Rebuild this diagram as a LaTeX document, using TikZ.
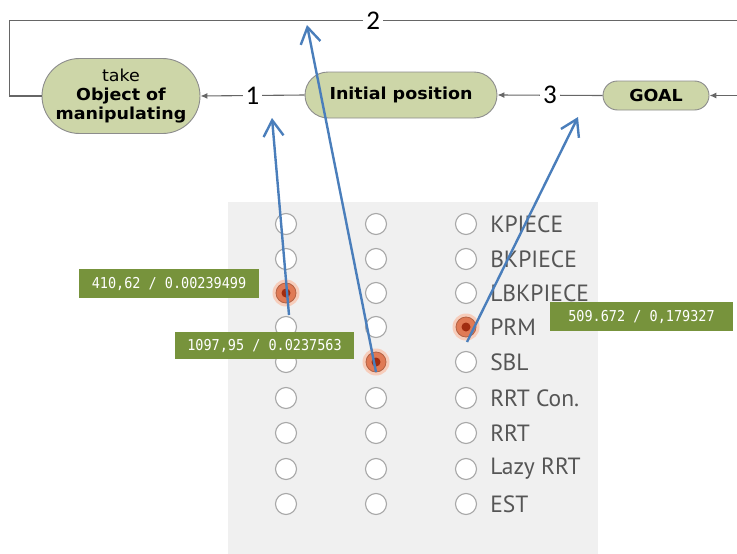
\documentclass[tikz,border=0pt]{standalone}
\usepackage{fontspec}
\usetikzlibrary{shapes.misc,arrows.meta}
\setmainfont{DejaVu Sans}
\newfontfamily\numfont{Carlito}
\newfontfamily\radfont{PT Sans}
\newfontfamily\boxfont[FakeStretch=0.9]{DejaVu Sans Mono}
\newfontfamily\nodefont[FakeStretch=1.06]{DejaVu Sans}
\definecolor{nodefill}{HTML}{CDD6A8}
\definecolor{nodeline}{HTML}{8C8C8C}
\definecolor{flowline}{HTML}{666666}
\definecolor{panel}{HTML}{F0F0F0}
\definecolor{boxgreen}{HTML}{77933C}
\definecolor{bluearrow}{HTML}{4A7EBB}
\definecolor{radline}{HTML}{A8A8A8}
\definecolor{radtext}{HTML}{555555}
\definecolor{selout}{HTML}{E07A55}
\definecolor{selhalo}{HTML}{F7CDBB}
\definecolor{selin}{HTML}{A02C10}
\tikzset{
  stadium/.style={rounded rectangle, draw=nodeline, line width=0.9pt, fill=nodefill,
    inner sep=0pt, font=\nodefont\fontsize{16.5}{19}\selectfont\bfseries, align=center},
  flow/.style={draw=flowline, line width=1.1pt, -{Latex[length=7pt,width=6pt]}},
  plainline/.style={draw=flowline, line width=1.1pt},
  numlab/.style={fill=white, inner sep=3pt, font=\numfont\fontsize{27}{27}\selectfont, text=black},
  radio/.style={circle, draw=radline, line width=1.1pt, fill=white, minimum size=21pt, inner sep=0pt},
  radlab/.style={anchor=west, inner sep=0pt, font=\radfont\fontsize{23.5}{24}\selectfont, text=radtext},
  greenbox/.style={fill=boxgreen, text=white, inner sep=0pt, font=\boxfont\fontsize{15}{15}\selectfont},
  blue/.style={draw=bluearrow, line width=2.4pt, -{Straight Barb[length=16pt,width=20pt]}},
}
\begin{document}
\begin{tikzpicture}[x=1pt,y=-1pt]
\useasboundingbox (0,0) rectangle (737,554);
% flow chart
\node[stadium, minimum width=158pt, minimum height=75pt] (obj) at (121,96)
  {{\mdseries take}\\Object of\\manipulating};
\node[stadium, minimum width=192pt, minimum height=46pt] (init) at (401,95) {Initial position};
\node[stadium, minimum width=106pt, minimum height=29pt] (goal) at (656,95.5) {GOAL};
\coordinate (tl) at (9.5,20.5);
\coordinate (bl) at (9.5,96);
\coordinate (tr) at (737,20.5);
\coordinate (rr) at (737,95.5);
\draw[flow] (init.west) -- node[numlab]{1} (obj.east);
\draw[flow] (goal.west) -- node[numlab]{3} (init.east);
\draw[flow] (rr) -- (goal.east);
\draw[plainline] (obj.west) -- (bl) -- (tl) -- node[numlab, pos=0.5]{2} (tr);
% panel
\fill[panel] (228,202) rectangle (598,554);
\foreach \r/\y in {1/224,2/259,3/293,4/327,5/362,6/398,7/433,8/469,9/504}{
  \node[radio] (radio-1-\r) at (286,\y) {};
  \node[radio] (radio-2-\r) at (376,\y) {};
  \node[radio] (radio-3-\r) at (466,\y) {};
}
\foreach \r/\t in {1/KPIECE,2/BKPIECE,3/LBKPIECE,4/PRM,5/SBL,6/RRT Con.,7/RRT,8/Lazy RRT,9/EST}{
  \node[radlab] (lab-\r) at ([xshift=13pt]radio-3-\r.east) {\t};
}
% selected radios
\foreach \n in {radio-1-3,radio-2-5,radio-3-4}{
  \fill[selhalo] (\n.center) circle (13.5pt);
  \draw[fill=selout, draw=selout!80!black, line width=0.8pt] (\n.center) circle (10pt);
  \fill[selin] (\n.center) circle (4.5pt);
}
% green value boxes
\node[greenbox, minimum width=180pt, minimum height=29pt] (v1) at (169,283.5) {410,62 / 0.00239499};
\node[greenbox, minimum width=179pt, minimum height=27pt] (v2) at (264.5,345.5) {1097,95 / 0.0237563};
\node[greenbox, minimum width=183pt, minimum height=29pt] (v3) at (641.5,316.5) {509.672 / 0,179327};
% blue arrows
\coordinate (s1) at (289,315);
\coordinate (t1) at (272,118);
\coordinate (s2) at (376,372);
\coordinate (t2) at (307,25);
\coordinate (s3) at (467,342);
\coordinate (t3) at (578,117);
\draw[blue] (s1) -- (t1);
\draw[blue] (s2) -- (t2);
\draw[blue] (s3) -- (t3);
\end{tikzpicture}
\end{document}
